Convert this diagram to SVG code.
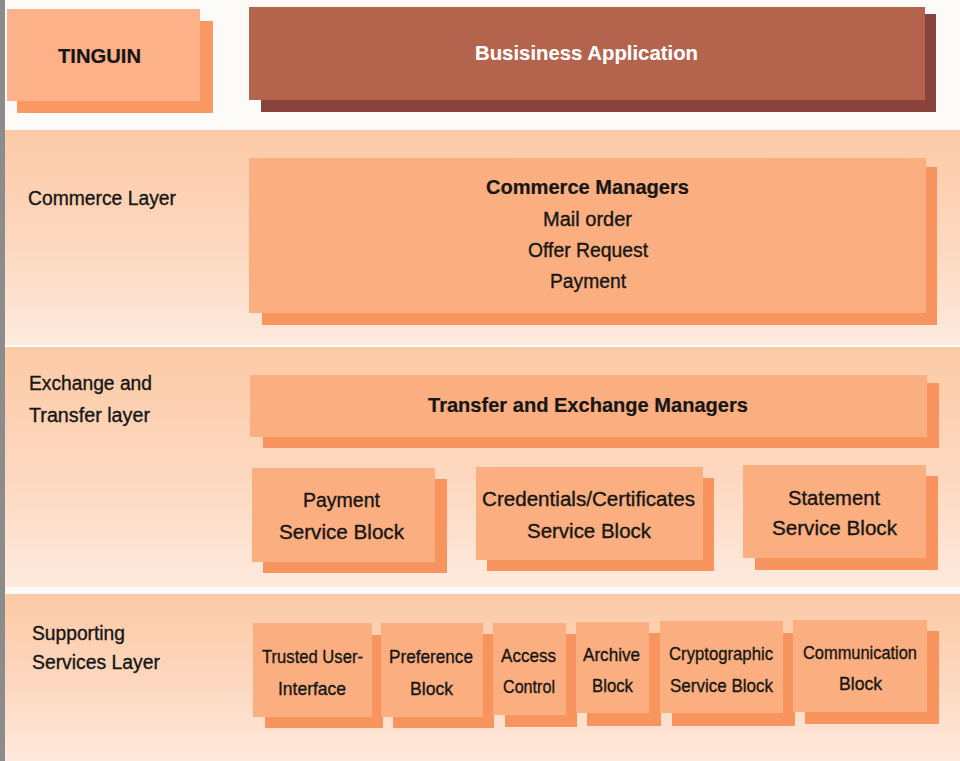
<svg xmlns="http://www.w3.org/2000/svg" width="960" height="761" viewBox="0 0 960 761">
  <defs>
    <linearGradient id="band" x1="0" y1="0" x2="0" y2="1">
      <stop offset="0" stop-color="#fccaa6"/>
      <stop offset="0.55" stop-color="#fdd8c0"/>
      <stop offset="1" stop-color="#feeade"/>
    </linearGradient>
    <style>
      .front { fill: #fbae80; }
      .shadow { fill: #f8955f; }
      .t { font-family: "Liberation Sans", Arial, sans-serif; font-size: 20px; fill: #161616; stroke: #161616; stroke-width: 0.35px; }
      .s { font-size: 19px; }
      .b { font-weight: bold; stroke-width: 0.2px; }
      .w { fill: #ffffff; stroke: #ffffff; stroke-width: 0.1px; }
    </style>
  </defs>

  <!-- page -->
  <rect x="0" y="0" width="960" height="761" fill="#fdfbf8"/>
  <rect x="0" y="0" width="5" height="761" fill="#8c8c8c"/>

  <!-- layer bands -->
  <g id="bands">
    <rect x="5" y="130" width="955" height="215" fill="url(#band)"/>
    <rect x="5" y="347" width="955" height="240" fill="url(#band)"/>
    <rect x="5" y="594" width="955" height="167" fill="url(#band)"/>
  </g>

  <!-- layer titles -->
  <g id="layer-labels">
    <text class="t" x="28" y="205" textLength="148" lengthAdjust="spacingAndGlyphs">Commerce Layer</text>
    <text class="t" x="29" y="390" textLength="123" lengthAdjust="spacingAndGlyphs">Exchange and</text>
    <text class="t" x="29" y="422" textLength="121" lengthAdjust="spacingAndGlyphs">Transfer layer</text>
    <text class="t" x="32" y="640" textLength="93" lengthAdjust="spacingAndGlyphs">Supporting</text>
    <text class="t" x="32" y="669" textLength="128" lengthAdjust="spacingAndGlyphs">Services Layer</text>
  </g>

  <g id="tinguin">
    <rect x="17" y="21" width="196" height="92" fill="#fa9862"/>
    <rect x="7" y="9" width="193" height="92" fill="#fdb189"/>
    <text class="t b" x="58" y="63" font-size="22" textLength="83" lengthAdjust="spacingAndGlyphs">TINGUIN</text>
  </g>

  <g id="business-application">
    <rect x="261" y="14" width="675" height="98" fill="#8a423d"/>
    <rect x="249" y="7" width="676" height="93" fill="#b4644d"/>
    <text class="t b w" x="475" y="60" textLength="223" lengthAdjust="spacingAndGlyphs">Busisiness Application</text>
  </g>

  <g id="commerce-managers">
    <rect class="shadow" x="262" y="167" width="675" height="158"/>
    <rect class="front" x="249" y="158" width="677" height="155"/>
    <text class="t b" x="486" y="194" textLength="203" lengthAdjust="spacingAndGlyphs">Commerce Managers</text>
    <text class="t" x="543" y="226" textLength="89" lengthAdjust="spacingAndGlyphs">Mail order</text>
    <text class="t" x="528" y="257" textLength="120" lengthAdjust="spacingAndGlyphs">Offer Request</text>
    <text class="t" x="550" y="288" textLength="76" lengthAdjust="spacingAndGlyphs">Payment</text>
  </g>

  <g id="transfer-exchange-managers">
    <rect class="shadow" x="263" y="383" width="676" height="65"/>
    <rect class="front" x="250" y="375" width="677" height="62"/>
    <text class="t b" x="428" y="412" textLength="320" lengthAdjust="spacingAndGlyphs">Transfer and Exchange Managers</text>
  </g>

  <g id="payment-service-block">
    <rect class="shadow" x="263" y="479" width="184" height="94"/>
    <rect class="front" x="252" y="468" width="183" height="94"/>
    <text class="t" x="303" y="507" textLength="77" lengthAdjust="spacingAndGlyphs">Payment</text>
    <text class="t" x="279" y="539" textLength="125" lengthAdjust="spacingAndGlyphs">Service Block</text>
  </g>

  <g id="credentials-service-block">
    <rect class="shadow" x="487" y="478" width="227" height="93"/>
    <rect class="front" x="476" y="467" width="227" height="93"/>
    <text class="t" x="482" y="506" textLength="213" lengthAdjust="spacingAndGlyphs">Credentials/Certificates</text>
    <text class="t" x="527" y="538" textLength="124" lengthAdjust="spacingAndGlyphs">Service Block</text>
  </g>

  <g id="statement-service-block">
    <rect class="shadow" x="755" y="476" width="183" height="94"/>
    <rect class="front" x="743" y="465" width="183" height="93"/>
    <text class="t" x="788" y="505" textLength="92" lengthAdjust="spacingAndGlyphs">Statement</text>
    <text class="t" x="772" y="535" textLength="125" lengthAdjust="spacingAndGlyphs">Service Block</text>
  </g>

  <g id="trusted-user-interface">
    <rect class="shadow" x="265" y="635" width="118" height="93"/>
    <rect class="front" x="253" y="623" width="119" height="94"/>
    <text class="t s" x="262" y="663" textLength="101" lengthAdjust="spacingAndGlyphs">Trusted User-</text>
    <text class="t s" x="278" y="695" textLength="68" lengthAdjust="spacingAndGlyphs">Interface</text>
  </g>

  <g id="preference-block">
    <rect class="shadow" x="393" y="634" width="101" height="94"/>
    <rect class="front" x="381" y="623" width="102" height="94"/>
    <text class="t s" x="389" y="663" textLength="84" lengthAdjust="spacingAndGlyphs">Preference</text>
    <text class="t s" x="410" y="695" textLength="43" lengthAdjust="spacingAndGlyphs">Block</text>
  </g>

  <g id="access-control">
    <rect class="shadow" x="505" y="634" width="72" height="93"/>
    <rect class="front" x="493" y="623" width="73" height="92"/>
    <text class="t s" x="501" y="662" textLength="55" lengthAdjust="spacingAndGlyphs">Access</text>
    <text class="t s" x="503" y="693" textLength="52" lengthAdjust="spacingAndGlyphs">Control</text>
  </g>

  <g id="archive-block">
    <rect class="shadow" x="587" y="633" width="74" height="93"/>
    <rect class="front" x="576" y="622" width="73" height="91"/>
    <text class="t s" x="583" y="661" textLength="57" lengthAdjust="spacingAndGlyphs">Archive</text>
    <text class="t s" x="592" y="692" textLength="41" lengthAdjust="spacingAndGlyphs">Block</text>
  </g>

  <g id="cryptographic-service-block">
    <rect class="shadow" x="672" y="633" width="123" height="93"/>
    <rect class="front" x="660" y="621" width="123" height="92"/>
    <text class="t s" x="669" y="660" textLength="104" lengthAdjust="spacingAndGlyphs">Cryptographic</text>
    <text class="t s" x="670" y="692" textLength="103" lengthAdjust="spacingAndGlyphs">Service Block</text>
  </g>

  <g id="communication-block">
    <rect class="shadow" x="805" y="631" width="134" height="93"/>
    <rect class="front" x="793" y="620" width="134" height="92"/>
    <text class="t s" x="803" y="659" textLength="114" lengthAdjust="spacingAndGlyphs">Communication</text>
    <text class="t s" x="839" y="690" textLength="43" lengthAdjust="spacingAndGlyphs">Block</text>
  </g>
</svg>
